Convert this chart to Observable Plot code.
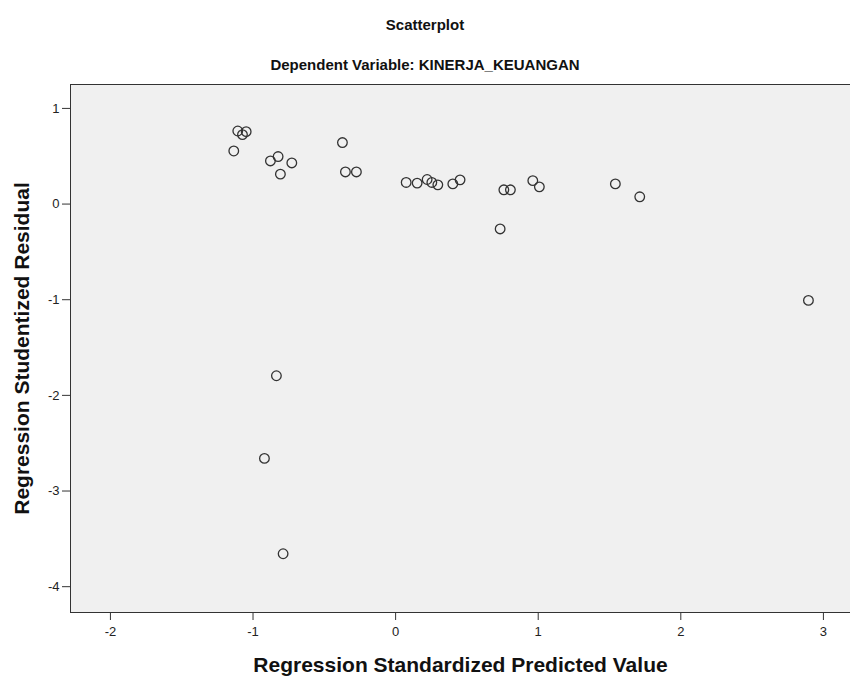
<!DOCTYPE html>
<html>
<head>
<meta charset="utf-8">
<script src="https://cdn.jsdelivr.net/npm/d3@7"></script>
<script src="https://cdn.jsdelivr.net/npm/@observablehq/plot@0.6"></script>
<style>
  html, body { margin: 0; padding: 0; background: #ffffff; }
  #wrap { position: relative; width: 850px; height: 677px; font-family: "Liberation Sans", Arial, sans-serif; }
  .ttl { position: absolute; left: 0; width: 850px; text-align: center; font-weight: bold; color: #111; line-height: 18px; }
  #t1 { top: 16px; font-size: 15px; }
  #t2 { top: 56px; font-size: 15px; }
  #chart { position: absolute; left: 0; top: 0; }
</style>
</head>
<body>
<div id="wrap">
  <div id="chart"></div>
  <div class="ttl" id="t1">Scatterplot</div>
  <div class="ttl" id="t2">Dependent Variable: KINERJA_KEUANGAN</div>
</div>
<script>
const predicted = [-1.107, -1.048, -1.074, -1.135, -0.878, -0.824, -0.728, -0.808, -0.373, -0.352, -0.275,
  0.074, 0.151, 0.221, 0.254, 0.296, 0.401, 0.452, 0.759, 0.805, 0.962, 1.008, 0.733, 1.541, 1.712,
  -0.836, -0.920, -0.789, 2.895];
const residual = [0.764, 0.757, 0.726, 0.555, 0.451, 0.497, 0.430, 0.313, 0.643, 0.336, 0.336,
  0.226, 0.219, 0.257, 0.226, 0.201, 0.211, 0.253, 0.149, 0.149, 0.245, 0.180, -0.260, 0.211, 0.076,
  -1.795, -2.659, -3.656, -1.007];
const xTicks = [-2, -1, 0, 1, 2, 3];
const yTicks = [-4, -3, -2, -1, 0, 1];
const xTitle = "Regression Standardized Predicted Value";
const yTitle = "Regression Studentized Residual";

const data = predicted.map((x, i) => ({x, y: residual[i]}));
const fmt = d => String(d);

const chart = Plot.plot({
  width: 850,
  height: 677,
  marginLeft: 70,
  marginRight: 0,
  marginTop: 84,
  marginBottom: 65,
  style: {fontFamily: "'Liberation Sans', Arial, sans-serif", background: "transparent", color: "#222"},
  x: {domain: [-2.28, 3.19], ticks: xTicks},
  y: {domain: [-4.27, 1.25], ticks: yTicks},
  marks: [
    Plot.frame({fill: "#f0f0f0"}),
    Plot.axisX({ticks: xTicks, tickFormat: fmt, tickSize: 8, tickPadding: 6, fontSize: 13, label: null, stroke: "#333", fill: "#222"}),
    Plot.axisY({ticks: yTicks, tickFormat: fmt, tickSize: 8, tickPadding: 3, fontSize: 13, label: null, stroke: "#333", fill: "#222"}),
    Plot.frame({stroke: "#333", strokeWidth: 1}),
    Plot.dot(data, {x: "x", y: "y", r: 4.8, stroke: "#333", strokeWidth: 1.3, fill: "none"}),
    Plot.text([xTitle], {frameAnchor: "bottom", textAnchor: "middle", lineAnchor: "middle", dy: 53, fontSize: 21, fontWeight: "bold", fill: "#111"}),
    Plot.text([yTitle], {frameAnchor: "left", textAnchor: "middle", lineAnchor: "middle", dx: -48, rotate: -90, fontSize: 21, fontWeight: "bold", fill: "#111"})
  ]
});
document.getElementById("chart").appendChild(chart);
</script>
</body>
</html>
